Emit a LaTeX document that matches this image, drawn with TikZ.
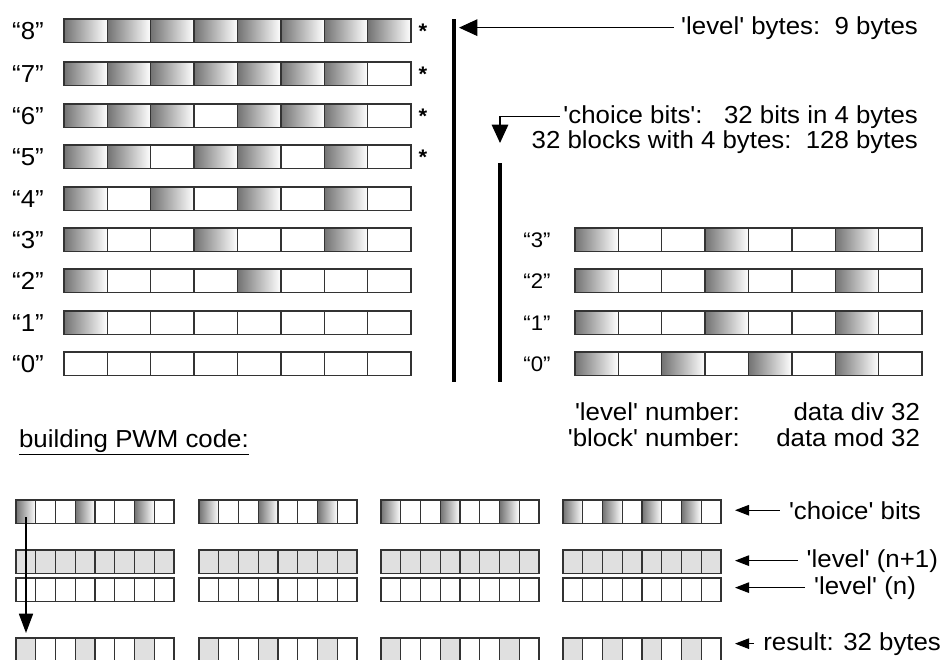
\documentclass[tikz,border=0pt]{standalone}
\usepackage{fontspec}
\newfontfamily\arialf{Liberation Sans}[FakeStretch=1.05]
\usetikzlibrary{arrows.meta}

\tikzset{
    lbl/.style={font=\arialf\fontsize{14}{16}\selectfont, inner sep=1pt},
    smalllbl/.style={font=\arialf\fontsize{12}{14}\selectfont, inner sep=1pt},
    cellline/.style={draw=black!80, line width=0.8pt},
    grad/.style={left color=black!55, right color=white},
    lite/.style={fill=black!12},
    bar/.style={line width=2.8pt},
    bigarr/.style={-{Triangle[length=10.5pt,width=9.5pt]}, line width=0.6pt},
    downarr/.style={-{Triangle[length=11pt,width=8pt]}, line width=0.9pt},
    smallarr/.style={-{Triangle[length=8pt,width=6pt]}, line width=0.6pt},
}

% one byte: #1 left, #2 top, #3 cell width, #4 bit pattern, #5 fill style
\newcommand{\bitrow}[5]{%
    \foreach \vv [count=\cc from 0] in {#4} {
        \ifnum\vv=1 \path[#5] (#1+\cc*#3,#2) rectangle ++(#3,23.5); \fi
    }
    \foreach \cc in {1,...,7}
        \draw[cellline] (#1+\cc*#3,#2) -- ++(0,23.5);
    \draw[cellline] (#1,#2) rectangle ++(8*#3,23.5);
}

\begin{document}
\begin{tikzpicture}[x=0.02cm, y=-0.02cm]
    \useasboundingbox (0,0) rectangle (945,659);

    % level bytes
    \bitrow{64}{19}{43.375}{1,1,1,1,1,1,1,1}{grad}
    \bitrow{64}{62}{43.375}{1,1,1,1,1,1,1,0}{grad}
    \bitrow{64}{104}{43.375}{1,1,1,0,1,1,1,0}{grad}
    \bitrow{64}{145}{43.375}{1,1,0,1,1,0,1,0}{grad}
    \bitrow{64}{187}{43.375}{1,0,1,0,1,0,1,0}{grad}
    \bitrow{64}{228}{43.375}{1,0,0,1,0,0,1,0}{grad}
    \bitrow{64}{269}{43.375}{1,0,0,0,1,0,0,0}{grad}
    \bitrow{64}{311}{43.375}{1,0,0,0,0,0,0,0}{grad}
    \bitrow{64}{352}{43.375}{0,0,0,0,0,0,0,0}{grad}
    \foreach \r/\y in {8/19,7/62,6/104,5/145,4/187,3/228,2/269,1/311,0/352}
        \node[lbl, anchor=base] (lev\r) at (28,\y+20) {“\r”};
    \foreach \r/\y in {8/19,7/62,6/104,5/145}
        \node[lbl, font=\arialf\fontsize{12}{14}\selectfont\bfseries] (star\r) at (423,\y+12) {*};

    % choice bytes of one block
    \bitrow{575}{228}{43.375}{1,0,0,1,0,0,1,0}{grad}
    \bitrow{575}{269}{43.375}{1,0,0,1,0,0,1,0}{grad}
    \bitrow{575}{311}{43.375}{1,0,0,1,0,0,1,0}{grad}
    \bitrow{575}{352}{43.375}{1,0,1,0,1,0,1,0}{grad}
    \foreach \r/\y in {3/228,2/269,1/311,0/352}
        \node[smalllbl, anchor=base] (blk\r) at (537,\y+19) {“\r”};

    \draw[bar] (454,19) -- (454,382);
    \draw[bar] (500,163) -- (500,382);
    \coordinate (barA) at (459,27);
    \coordinate (choicetip) at (500,143);

    \node[lbl, anchor=base east] (lvlbytes) at (920,34) {'level' bytes:\ \ 9 bytes};
    \node[lbl, anchor=base east] (choicetxt) at (920,123) {'choice bits':\ \ \ 32 bits in 4 bytes};
    \node[lbl, anchor=base east] (blocktxt) at (920,148) {32 blocks with 4 bytes:\ \ 128 bytes};
    \draw[bigarr, shorten <=3pt] (lvlbytes.west) -- (lvlbytes.west -| barA);
    \draw[bigarr, shorten <=1pt] (choicetxt.west) -| (choicetip);

    \node[lbl, anchor=base east] (levnum) at (742,420) {'level' number:};
    \node[lbl, anchor=base east] (levdiv) at (922,420) {data div 32};
    \node[lbl, anchor=base east] (blknum) at (742,446) {'block' number:};
    \node[lbl, anchor=base east] (blkmod) at (922,446) {data mod 32};

    % building PWM code
    \node[lbl, anchor=base west] (pwm) at (17,447) {\underline{building PWM code:}};
    \foreach \x in {16,199,381} {
        \bitrow{\x}{500}{19.75}{1,0,0,1,0,0,1,0}{grad}
        \bitrow{\x}{638}{19.75}{1,0,0,1,0,0,1,0}{lite}
    }
    \bitrow{563}{500}{19.75}{1,0,1,0,1,0,1,0}{grad}
    \bitrow{563}{638}{19.75}{1,0,1,0,1,0,1,0}{lite}
    \foreach \x in {16,199,381,563} {
        \bitrow{\x}{550}{19.75}{1,1,1,1,1,1,1,1}{lite}
        \bitrow{\x}{578}{19.75}{0,0,0,0,0,0,0,0}{lite}
    }
    \coordinate (bitsrc) at (26,517);
    \coordinate (bitdst) at (26,633);
    \draw[downarr] (bitsrc) -- (bitdst);

    \coordinate (tipcol) at (735,0);
    \node[lbl, anchor=base east] (choicelbl) at (923,519) {'choice' bits};
    \node[lbl, anchor=base east] (nextlbl) at (940,567) {'level' (n+1)};
    \node[lbl, anchor=base east] (curlbl) at (918,594) {'level' (n)};
    \node[lbl, anchor=base east] (reslbl) at (943,650) {result: 32 bytes};
    \foreach \n in {choicelbl,nextlbl,curlbl,reslbl}
        \draw[smallarr, shorten <=4pt] (\n.west) -- (\n.west -| tipcol);
\end{tikzpicture}
\end{document}
